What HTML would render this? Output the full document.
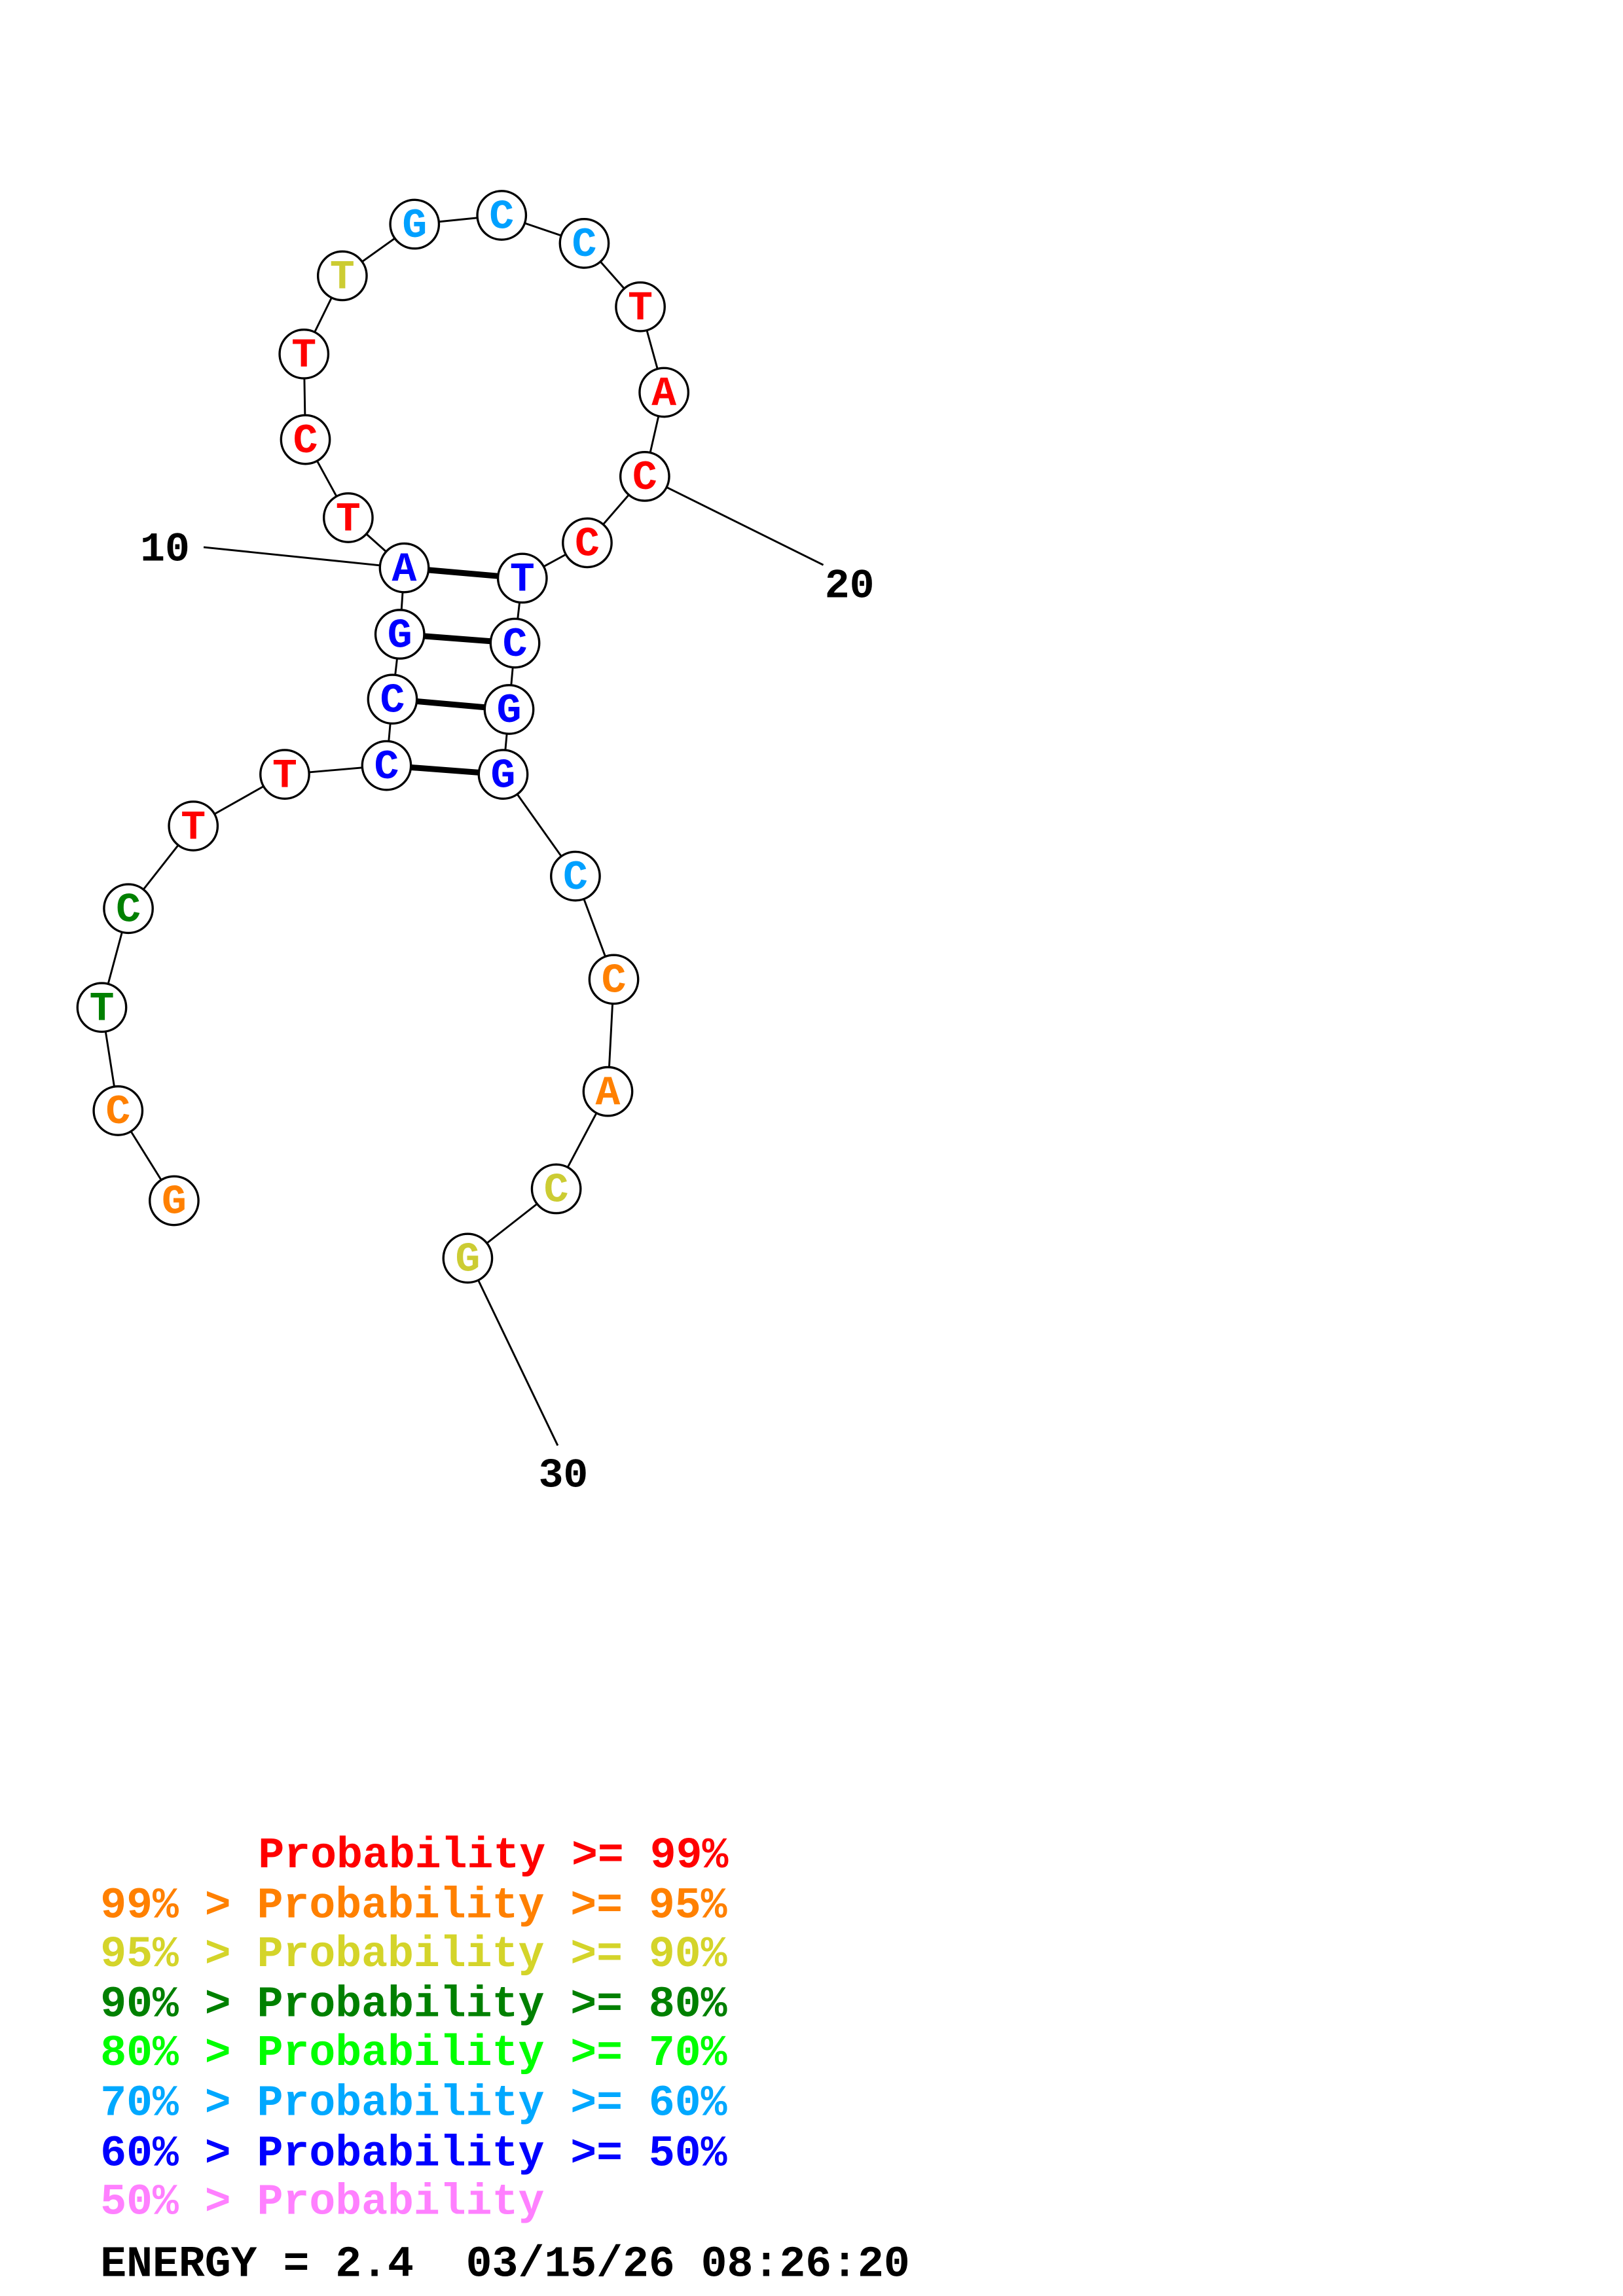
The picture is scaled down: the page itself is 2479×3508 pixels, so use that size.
<!DOCTYPE html>
<html><head><meta charset="utf-8"><style>html,body{margin:0;padding:0;background:#fff}svg{display:block}text{white-space:pre}</style></head>
<body>
<svg width="2479" height="3508" viewBox="0 0 1100 1556.6" xmlns="http://www.w3.org/2000/svg" font-family="'Liberation Mono', monospace" font-weight="bold">
<rect width="1100" height="1556.6" fill="#fff"/>
<g stroke="#000" stroke-width="1.3" fill="none">
<polyline points="118,814 80,753 69,683 87,616 131,560 193,525 262,519 266,474 271,430 274,385 236,351 207,298 206,240 232,187 281,152 340,146 396,165 434,208 450,266 437,323 398,368 354,392 349,436 345,481 341,525 390,594 416,664 412,740 377,806 317,853"/>
<line x1="138" y1="371" x2="274" y2="385"/>
<line x1="437" y1="323" x2="558" y2="383"/>
<line x1="317" y1="853" x2="378" y2="980"/>
</g>
<g stroke="#000" stroke-width="4">
<line x1="274" y1="385" x2="354" y2="392"/>
<line x1="271" y1="430" x2="349" y2="436"/>
<line x1="266" y1="474" x2="345" y2="481"/>
<line x1="262" y1="519" x2="341" y2="525"/>
</g>
<g stroke="#000" stroke-width="1.5" fill="#fff">
<circle cx="118" cy="814" r="16.5"/><circle cx="80" cy="753" r="16.5"/><circle cx="69" cy="683" r="16.5"/><circle cx="87" cy="616" r="16.5"/><circle cx="131" cy="560" r="16.5"/><circle cx="193" cy="525" r="16.5"/><circle cx="262" cy="519" r="16.5"/><circle cx="266" cy="474" r="16.5"/><circle cx="271" cy="430" r="16.5"/><circle cx="274" cy="385" r="16.5"/><circle cx="236" cy="351" r="16.5"/><circle cx="207" cy="298" r="16.5"/><circle cx="206" cy="240" r="16.5"/><circle cx="232" cy="187" r="16.5"/><circle cx="281" cy="152" r="16.5"/><circle cx="340" cy="146" r="16.5"/><circle cx="396" cy="165" r="16.5"/><circle cx="434" cy="208" r="16.5"/><circle cx="450" cy="266" r="16.5"/><circle cx="437" cy="323" r="16.5"/><circle cx="398" cy="368" r="16.5"/><circle cx="354" cy="392" r="16.5"/><circle cx="349" cy="436" r="16.5"/><circle cx="345" cy="481" r="16.5"/><circle cx="341" cy="525" r="16.5"/><circle cx="390" cy="594" r="16.5"/><circle cx="416" cy="664" r="16.5"/><circle cx="412" cy="740" r="16.5"/><circle cx="377" cy="806" r="16.5"/><circle cx="317" cy="853" r="16.5"/>
</g>
<g font-size="28" text-anchor="middle" dominant-baseline="central">
<text x="118" y="815" fill="#ff8000">G</text>
<text x="80" y="754" fill="#ff8000">C</text>
<text x="69" y="684" fill="#008000">T</text>
<text x="87" y="617" fill="#008000">C</text>
<text x="131" y="561" fill="#ff0000">T</text>
<text x="193" y="526" fill="#ff0000">T</text>
<text x="262" y="520" fill="#0000ff">C</text>
<text x="266" y="475" fill="#0000ff">C</text>
<text x="271" y="431" fill="#0000ff">G</text>
<text x="274" y="386" fill="#0000ff">A</text>
<text x="236" y="352" fill="#ff0000">T</text>
<text x="207" y="299" fill="#ff0000">C</text>
<text x="206" y="241" fill="#ff0000">T</text>
<text x="232" y="188" fill="#cccc33">T</text>
<text x="281" y="153" fill="#00a0ff">G</text>
<text x="340" y="147" fill="#00a0ff">C</text>
<text x="396" y="166" fill="#00a0ff">C</text>
<text x="434" y="209" fill="#ff0000">T</text>
<text x="450" y="267" fill="#ff0000">A</text>
<text x="437" y="324" fill="#ff0000">C</text>
<text x="398" y="369" fill="#ff0000">C</text>
<text x="354" y="393" fill="#0000ff">T</text>
<text x="349" y="437" fill="#0000ff">C</text>
<text x="345" y="482" fill="#0000ff">G</text>
<text x="341" y="526" fill="#0000ff">G</text>
<text x="390" y="595" fill="#00a0ff">C</text>
<text x="416" y="665" fill="#ff8000">C</text>
<text x="412" y="741" fill="#ff8000">A</text>
<text x="377" y="807" fill="#cccc33">C</text>
<text x="317" y="854" fill="#cccc33">G</text>
</g>
<g font-size="28" fill="#000">
<text x="95" y="380">10</text>
<text x="559" y="405">20</text>
<text x="365" y="1008">30</text>
</g>
<g font-size="29.5">
<text x="175" y="1266" fill="#ff0000">Probability &gt;= 99%</text>
<text x="68" y="1300" fill="#ff8000">99% &gt; Probability &gt;= 95%</text>
<text x="68" y="1333" fill="#d4d42a">95% &gt; Probability &gt;= 90%</text>
<text x="68" y="1367" fill="#008000">90% &gt; Probability &gt;= 80%</text>
<text x="68" y="1400" fill="#00ff00">80% &gt; Probability &gt;= 70%</text>
<text x="68" y="1434" fill="#00a8ff">70% &gt; Probability &gt;= 60%</text>
<text x="68" y="1468" fill="#0000ff">60% &gt; Probability &gt;= 50%</text>
<text x="68" y="1501" fill="#ff80ff">50% &gt; Probability</text>
<text x="68" y="1543" fill="#000">ENERGY = 2.4  03/15/26 08:26:20</text>
</g>
</svg>
</body></html>
